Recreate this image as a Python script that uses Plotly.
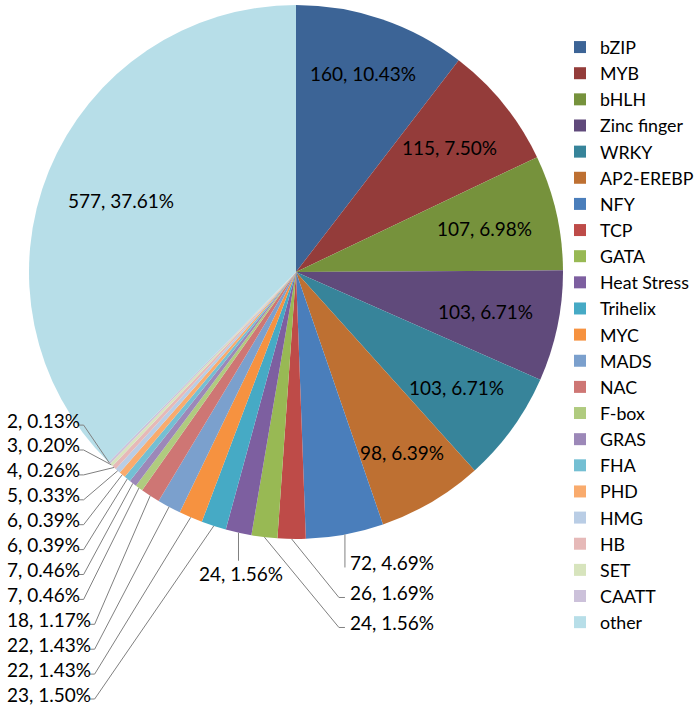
import numpy as np
import plotly.graph_objects as go

# ---------------- data ----------------
families = ["bZIP", "MYB", "bHLH", "Zinc finger", "WRKY", "AP2-EREBP", "NFY", "TCP",
            "GATA", "Heat Stress", "Trihelix", "MYC", "MADS", "NAC", "F-box", "GRAS",
            "FHA", "PHD", "HMG", "HB", "SET", "CAATT", "other"]
counts = [160, 115, 107, 103, 103, 98, 72, 26, 24, 24, 23, 22, 22, 18, 7, 7, 6, 6, 5, 4, 3, 2, 577]
colors = ["#3C6496", "#943C3A", "#76923C", "#604A7B", "#37849A", "#BE7032",
          "#4A7EBB", "#BE4B48", "#98B954", "#7D5FA0", "#46AAC5", "#F69240",
          "#7BA0CD", "#CE7674", "#B0CB7F", "#9C88B8", "#74BFD3", "#F9AB6D",
          "#B9CDE5", "#E6B9B8", "#D7E4BD", "#CCC1DA", "#B7DEE8"]

# ---------------- geometry (pixels) ----------------
W, H = 700, 708
CX, CY, R = 296, 272, 267
FONT = "Lato"
LBL_SIZE = 19
LINE_COL = "#808080"

total = sum(counts)
pcts = [c / total * 100 for c in counts]
cum = np.cumsum([0] + counts)
mid_deg = (cum[:-1] + np.array(counts) / 2.0) / total * 360.0


def pt(theta_deg, r):
    t = np.radians(theta_deg)
    return CX + r * np.sin(t), CY - r * np.cos(t)


def fx(x):
    return x / W


def fy(y):
    return 1 - y / H


def text_width(s):
    nd = sum(ch.isdigit() for ch in s)
    return LBL_SIZE * (0.58 * nd + 0.23 + 0.19 + 0.23 + 0.8)


labels_txt = [f"{c}, {p:.2f}%" for c, p in zip(counts, pcts)]

fig = go.Figure()
fig.add_trace(go.Pie(
    labels=families, values=counts, sort=False, direction="clockwise", rotation=0,
    marker=dict(colors=colors, line=dict(width=0)),
    textinfo="none", hoverinfo="label+value+percent",
    domain=dict(x=[fx(CX - R), fx(CX + R)], y=[fy(CY + R), fy(CY - R)]),
))

annotations = []
shapes = []


def add_line(points):
    path = "M " + " L ".join(f"{fx(x):.5f},{fy(y):.5f}" for x, y in points)
    shapes.append(dict(type="path", xref="paper", yref="paper", path=path,
                       line=dict(color=LINE_COL, width=1)))


right_items, below_items, left_items = [], [], []
for i, (c, p) in enumerate(zip(counts, pcts)):
    txt = labels_txt[i]
    if p >= 5:
        # inside label, pulled in until the text box fits in the slice disc
        w = text_width(txt)
        r = 0.8 * R
        while r > 0.3 * R:
            x, y = pt(mid_deg[i], r)
            far = max(np.hypot(x + sx * w / 2 - CX, y + sy * 11 - CY)
                      for sx in (-1, 1) for sy in (-1, 1))
            if far <= 0.91 * R:
                break
            r -= 2
        x, y = pt(mid_deg[i], r)
        annotations.append(dict(x=fx(x), y=fy(y), xref="paper", yref="paper", text=txt,
                                showarrow=False, xanchor="center", yanchor="middle",
                                font=dict(family=FONT, size=LBL_SIZE, color="#000000")))
    elif mid_deg[i] < 190:
        right_items.append(i)
    elif mid_deg[i] < 195:
        below_items.append(i)
    else:
        left_items.append(i)

# right column
if right_items:
    ex0, ey0 = pt(mid_deg[right_items[0]], R)
    xcol = ex0 + 3
    for k, i in enumerate(right_items):
        ex, ey = pt(mid_deg[i], R)
        ty = ey0 + 28 + 30 * k
        ly = ty + 5
        end = (xcol - 3, ly)
        if ex < xcol - 12:
            add_line([(ex, ey), (xcol - 9, ly), end])
        else:
            add_line([(ex, ey), (ex, ly)])
        annotations.append(dict(x=fx(xcol), y=fy(ty), xref="paper", yref="paper",
                                text=labels_txt[i], showarrow=False, xanchor="left",
                                yanchor="middle",
                                font=dict(family=FONT, size=LBL_SIZE, color="#000000")))

# below the slice
for i in below_items:
    ex, ey = pt(mid_deg[i], R)
    ty = ey + 41
    add_line([(ex, ey), (ex, ty - 13)])
    annotations.append(dict(x=fx(ex + 3), y=fy(ty), xref="paper", yref="paper",
                            text=labels_txt[i], showarrow=False, xanchor="center",
                            yanchor="middle",
                            font=dict(family=FONT, size=LBL_SIZE, color="#000000")))

# left column, stacked upward from the bottom
for k, i in enumerate(left_items):
    ex, ey = pt(mid_deg[i], R)
    ty = 694 - 24.9 * k
    tr = 5 + text_width(labels_txt[i])
    ly = ty + 5
    add_line([(tr + 2, ly), (tr + 7, ly), (ex, ey)])
    annotations.append(dict(x=fx(5), y=fy(ty), xref="paper", yref="paper",
                            text=labels_txt[i], showarrow=False, xanchor="left",
                            yanchor="middle",
                            font=dict(family=FONT, size=LBL_SIZE, color="#000000")))

fig.update_layout(
    width=W, height=H,
    margin=dict(l=0, r=0, t=0, b=0),
    paper_bgcolor="white", plot_bgcolor="white",
    showlegend=True,
    legend=dict(x=fx(560), y=fy(29), xanchor="left", yanchor="top",
                font=dict(family=FONT, size=17.8, color="#000000"),
                bgcolor="rgba(0,0,0,0)", borderwidth=0),
    annotations=annotations, shapes=shapes,
    font=dict(family=FONT),
)

fig.write_html("out.html", config={"displayModeBar": False},
               post_script="document.body.style.margin='0';document.body.style.overflow='hidden';")
